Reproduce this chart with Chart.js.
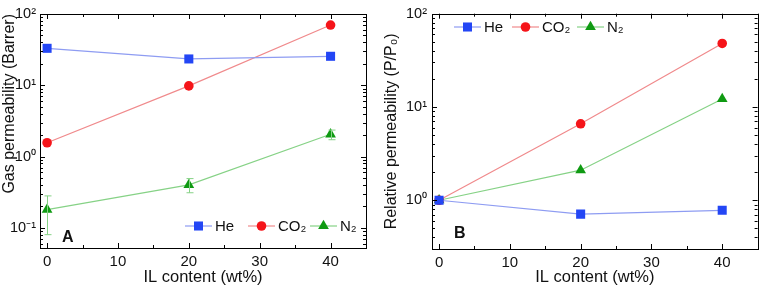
<!DOCTYPE html>
<html>
<head>
<meta charset="utf-8">
<script src="https://cdn.jsdelivr.net/npm/chart.js@4.4.1/dist/chart.umd.min.js"></script>
<style>
  body { margin: 0; background: #fff; }
  .panel { position: absolute; top: 0; width: 382px; height: 290px; }
</style>
</head>
<body>
<div class="panel" style="left:0"><canvas id="gas"></canvas></div>
<div class="panel" style="left:382px"><canvas id="relative"></canvas></div>
<script>
// IL content (wt%)
const ilContent = [0, 20, 40];

// panel A: gas permeability (Barrer)
const heGas = [33, 23.4, 25.5];
const co2Gas = [1.56, 9.8, 70];
const n2Gas = [0.18, 0.40, 2.05];
const n2GasLow = [0.08, 0.31, 1.72];
const n2GasHigh = [0.28, 0.49, 2.35];

// panel B: relative permeability (P/P0)
const heRel = [1.0, 0.71, 0.78];
const co2Rel = [1.0, 6.6, 48];
const n2Rel = [1.0, 2.1, 12.2];

const xTicks = [0, 10, 20, 30, 40];
const yTicksA = [0.1, 1, 10, 100];
const yTicksB = [1, 10, 100];
const expLabels = { 0.1: '10⁻¹', 1: '10⁰', 10: '10¹', 100: '10²' };

const FONT = 'Liberation Sans, Arial, sans-serif';
const HE = { marker: '#2346f5', line: '#8e9cf2', style: 'rect', r: 6.4 };
const CO2 = { marker: '#f51419', line: '#f08a8c', style: 'circle', r: 4.8 };
const N2 = { marker: '#0f9a12', line: '#86d286', style: 'triangle', r: 6.2 };

function series (label, ys, s) {
  return {
    label,
    data: ilContent.map((x, i) => ({ x, y: ys[i] })),
    borderColor: s.line,
    borderWidth: 1.2,
    backgroundColor: s.marker,
    pointBackgroundColor: s.marker,
    pointBorderColor: s.marker,
    pointBorderWidth: 0,
    pointStyle: s.style,
    pointRadius: s.r,
    tension: 0
  };
}

// inward ticks, frame, error bars, legend and panel letter
const decorPlugin = {
  id: 'decor',
  afterDatasetsDraw (chart, args, opts) {
    const { ctx, chartArea: a, scales: { x, y } } = chart;
    ctx.save();

    // error bars
    (opts.errors || []).forEach(e => {
      ctx.strokeStyle = e.color;
      ctx.lineWidth = 1;
      ilContent.forEach((v, i) => {
        const px = Math.round(x.getPixelForValue(v)) + 0.5;
        const lo = y.getPixelForValue(e.low[i]);
        const hi = y.getPixelForValue(e.high[i]);
        ctx.beginPath();
        ctx.moveTo(px, lo); ctx.lineTo(px, hi);
        ctx.moveTo(px - 3, lo); ctx.lineTo(px + 4, lo);
        ctx.moveTo(px - 3, hi); ctx.lineTo(px + 4, hi);
        ctx.stroke();
      });
    });

    // frame
    ctx.strokeStyle = '#000';
    ctx.lineWidth = 1;
    ctx.strokeRect(Math.round(a.left) + 0.5, Math.round(a.top) + 0.5, Math.round(a.width), Math.round(a.height));

    // x ticks (major every 10, minor every 5)
    ctx.beginPath();
    for (let v = 0; v <= 45; v += 5) {
      const px = Math.round(x.getPixelForValue(v)) + 0.5;
      const len = v % 10 === 0 ? 5 : 3;
      ctx.moveTo(px, a.bottom); ctx.lineTo(px, a.bottom - len);
      ctx.moveTo(px, a.top); ctx.lineTo(px, a.top + len);
    }
    // y ticks (log, major at decades)
    for (let d = -2; d <= 2; d++) {
      for (let m = 1; m <= 9; m++) {
        const v = m * Math.pow(10, d);
        if (v < y.min || v > y.max) continue;
        const py = Math.round(y.getPixelForValue(v)) + 0.5;
        const len = m === 1 ? 5 : 3;
        ctx.moveTo(a.left, py); ctx.lineTo(a.left + len, py);
        ctx.moveTo(a.right, py); ctx.lineTo(a.right - len, py);
      }
    }
    ctx.stroke();

    // legend
    const lg = opts.legend;
    ctx.font = '15px ' + FONT;
    ctx.textBaseline = 'middle';
    lg.items.forEach(it => {
      ctx.strokeStyle = it.s.line;
      ctx.lineWidth = 1.2;
      ctx.beginPath();
      ctx.moveTo(it.x, lg.y); ctx.lineTo(it.x + 27, lg.y);
      ctx.stroke();
      ctx.fillStyle = it.s.marker;
      Chart.helpers.drawPoint(ctx, { pointStyle: it.s.style, radius: it.s.r, borderWidth: 0 }, it.x + 13.5, lg.y);
      ctx.fillStyle = '#111';
      ctx.fillText(it.label, it.x + 30, lg.y + 1);
    });

    // panel letter
    ctx.font = 'bold 16px ' + FONT;
    ctx.fillStyle = '#111';
    ctx.fillText(opts.letter.text, opts.letter.x, opts.letter.y);
    ctx.restore();
  }
};

function makeChart (id, datasets, yMin, yTicks, yTitle, box, decor) {
  return new Chart(id, {
    type: 'line',
    data: { datasets },
    options: {
      responsive: false,
      animation: false,
      devicePixelRatio: 1,
      layout: { padding: { top: box.top, right: 382 - box.right, left: 0, bottom: 0 } },
      plugins: { legend: { display: false }, tooltip: { enabled: false }, decor },
      scales: {
        x: {
          type: 'linear',
          min: -1,
          max: 45,
          afterBuildTicks: s => { s.ticks = xTicks.map(value => ({ value })); },
          afterFit: s => { s.height = 290 - box.bottom; },
          grid: { display: false, drawTicks: false, tickLength: 0 },
          border: { display: false },
          ticks: { color: '#111', font: { family: FONT, size: 15 }, padding: 5, maxRotation: 0 },
          title: { display: true, text: 'IL content (wt%)', color: '#111', font: { family: FONT, size: 16.5 }, padding: { top: 0, bottom: 3 } }
        },
        y: {
          type: 'logarithmic',
          min: yMin,
          max: 100,
          afterBuildTicks: s => { s.ticks = yTicks.map(value => ({ value })); },
          afterFit: s => { s.width = box.left; },
          grid: { display: false, drawTicks: false, tickLength: 0 },
          border: { display: false },
          ticks: { color: '#111', font: { family: FONT, size: 14.5 }, padding: box.labelGap, callback: v => expLabels[v] },
          title: { display: true, align: box.titleAlign, text: yTitle, color: '#111', font: { family: FONT, size: 16 }, padding: { bottom: 0, top: 0 } }
        }
      }
    },
    plugins: [decorPlugin]
  });
}

document.getElementById('gas').width = 382;
document.getElementById('gas').height = 290;
document.getElementById('relative').width = 382;
document.getElementById('relative').height = 290;

makeChart('gas',
  [series('He', heGas, HE), series('CO₂', co2Gas, CO2), series('N₂', n2Gas, N2)],
  0.052, yTicksA, 'Gas permeability (Barrer)',
  { left: 40, right: 366, top: 14, bottom: 248, labelGap: 4, titleAlign: 'end' },
  {
    errors: [{ color: N2.line, low: n2GasLow, high: n2GasHigh }],
    legend: { y: 226, items: [{ x: 185, label: 'He', s: HE }, { x: 248, label: 'CO₂', s: CO2 }, { x: 310, label: 'N₂', s: N2 }] },
    letter: { text: 'A', x: 62, y: 238 }
  });

makeChart('relative',
  [series('He', heRel, HE), series('CO₂', co2Rel, CO2), series('N₂', n2Rel, N2)],
  0.31, yTicksB, 'Relative permeability (P/P₀)',
  { left: 50, right: 379, top: 11, bottom: 249, labelGap: 5, titleAlign: 'center' },
  {
    errors: [],
    legend: { y: 27, items: [{ x: 72, label: 'He', s: HE }, { x: 130, label: 'CO₂', s: CO2 }, { x: 195, label: 'N₂', s: N2 }] },
    letter: { text: 'B', x: 72, y: 234 }
  });
</script>
</body>
</html>
